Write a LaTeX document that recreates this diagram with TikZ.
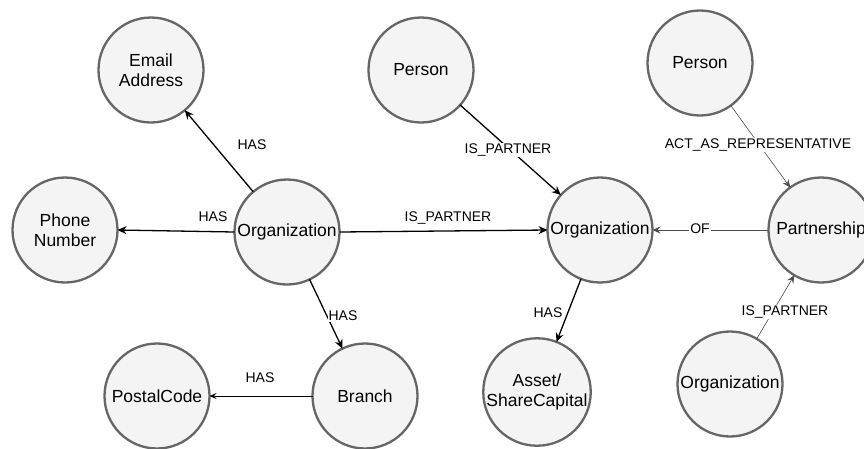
\documentclass[tikz,border=0pt]{standalone}
\usepackage{fontspec}
\setmainfont{Liberation Sans}
\usetikzlibrary{arrows.meta}
\definecolor{ringgray}{HTML}{666666}
\definecolor{ballfill}{HTML}{F4F4F4}
\begin{document}
\begin{tikzpicture}[x=1pt,y=-1pt,
  entity/.style={circle,draw=ringgray,line width=2.3pt,fill=ballfill,
    minimum size=105pt,inner sep=0pt,outer sep=0pt,align=center,
    font=\fontsize{17.5}{20.5}\selectfont},
  rel/.style={line width=1.3pt,-{Stealth[length=9pt,width=8pt,inset=3pt]}},
  relthin/.style={line width=0.8pt,-{Stealth[length=7pt,width=6pt,inset=2.5pt]}},
  relgray/.style={draw=black!70,line width=0.6pt,-{Stealth[length=8pt,width=7pt,inset=3pt]}},
  lbl/.style={font=\fontsize{14}{16}\selectfont,inner sep=1pt},
  lblw/.style={lbl,fill=white}]
\useasboundingbox (0,0) rectangle (864,448);

% entities
\node[entity] (email)  at (151,70)  {Email\\Address};
\node[entity] (phone)  at (65,230)  {Phone\\Number};
\node[entity] (orgL)   at (287,232) {Organization};
\node[entity] (branch) at (365,396) {Branch};
\node[entity] (postal) at (157,396) {PostalCode};
\node[entity] (persM)  at (421,70)  {Person};
\node[entity] (orgM)   at (600,230) {Organization};
\node[entity] (asset)  at (537,392) {Asset/\\ShareCapital};
\node[entity] (persR)  at (700,63)  {Person};
\node[entity] (partner) at (821,230) {Partnership};
\node[entity] (orgR)   at (730,384) {Organization};

% relationships
\draw[rel] (orgL) -- (email);
\draw[rel] (orgL.180) -- (phone.0);
\draw[rel] (orgL.0) -- (orgM.180);
\draw[rel] (orgL) -- (branch);
\draw[relthin] (branch) -- (postal);
\draw[rel] (persM) -- (orgM);
\draw[relgray] (persR) -- (partner);
\draw[relgray] (partner) -- (orgM);
\draw[rel] (orgM) -- (asset);
\draw[relgray] (orgR) -- (partner);

% relationship labels
\node[lbl]  (l1)  at (252,145) {HAS};
\node[lbl]  (l2)  at (213,217) {HAS};
\node[lbl]  (l3)  at (448,218) {IS\_PARTNER};
\node[lblw] (l4)  at (343,316) {HAS};
\node[lbl]  (l5)  at (260,378) {HAS};
\node[lblw] (l6)  at (508,150) {IS\_PARTNER};
\node[lblw] (l7)  at (758,145) {ACT\_AS\_REPRESENTATIVE};
\node[lblw] (l8)  at (700,229) {OF};
\node[lbl]  (l9)  at (548,313) {HAS};
\node[lblw] (l10) at (785,312) {IS\_PARTNER};
\end{tikzpicture}
\end{document}
